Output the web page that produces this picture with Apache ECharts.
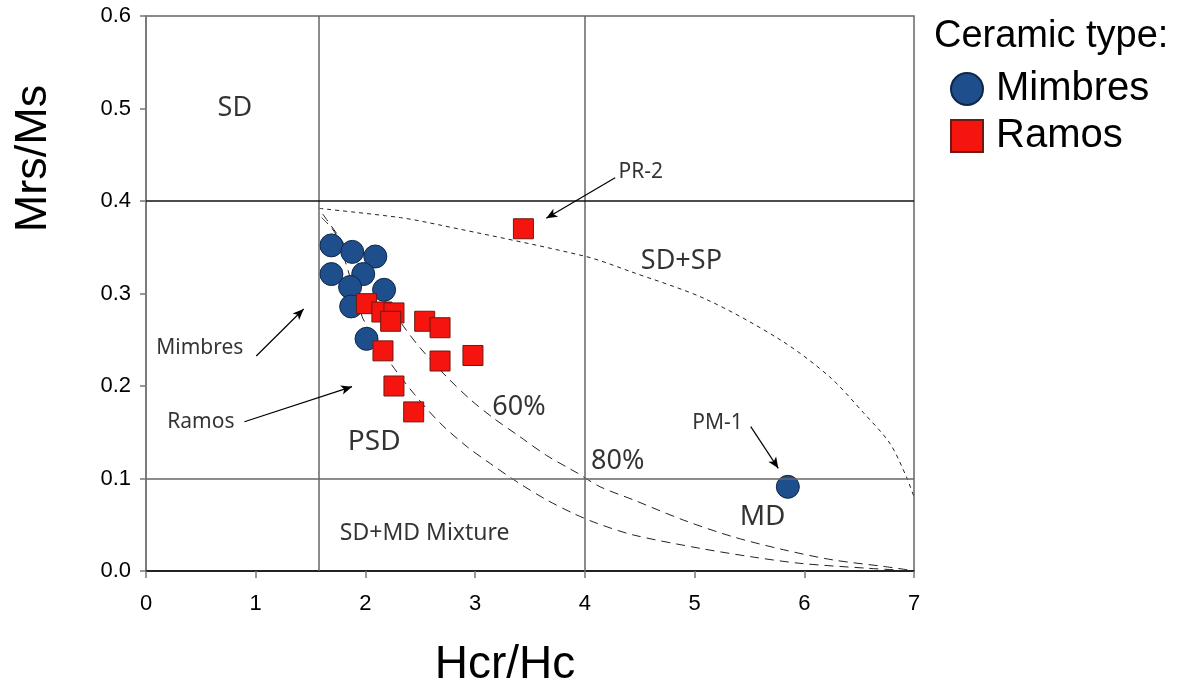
<!DOCTYPE html>
<html>
<head>
<meta charset="utf-8">
<script src="https://cdn.jsdelivr.net/npm/echarts@6/dist/echarts.min.js"></script>
<style>
  html, body { margin: 0; padding: 0; background: #fff; }
  #chart { width: 1182px; height: 678px; }
</style>
</head>
<body>
<div id="chart"></div>
<script>
// Day plot: hysteresis ratios of ceramic samples
const xTicks = [0, 1, 2, 3, 4, 5, 6, 7];
const yTicks = [0.0, 0.1, 0.2, 0.3, 0.4, 0.5, 0.6];

// [Hcr/Hc, Mrs/Ms]
const mimbres = [
  [1.69, 0.352], [1.88, 0.345], [2.09, 0.340], [1.69, 0.321], [1.98, 0.321],
  [1.86, 0.307], [2.17, 0.304], [1.87, 0.286], [2.01, 0.251], [5.85, 0.091]
];
const ramos = [
  [2.01, 0.289], [2.15, 0.280], [2.26, 0.279], [2.23, 0.270], [2.54, 0.270],
  [2.68, 0.263], [2.16, 0.238], [2.68, 0.227], [2.98, 0.233], [2.26, 0.200],
  [2.44, 0.172], [3.44, 0.370]
];

// Domain boundaries
const hcrLines = [1.57, 4];
const mrsLines = [0.4, 0.1];

// Mixing curves
const sdSpCurve = [
  [1.58, 0.392], [2.32, 0.382], [2.68, 0.374], [4.01, 0.340], [4.41, 0.324],
  [5.10, 0.294], [5.78, 0.250], [6.23, 0.210], [6.54, 0.171], [6.78, 0.138],
  [6.93, 0.102], [7.00, 0.080]
];
const sdMdUpper = [
  [1.61, 0.386], [2.35, 0.264], [2.50, 0.241], [2.74, 0.210], [2.96, 0.185],
  [3.17, 0.165], [3.41, 0.145], [3.65, 0.125], [3.93, 0.106], [4.14, 0.091],
  [4.44, 0.077], [4.90, 0.055], [5.35, 0.037], [5.81, 0.023], [6.26, 0.012],
  [6.72, 0.005], [6.96, 0.001]
];
const sdMdLower = [
  [1.60, 0.382], [1.73, 0.364], [1.97, 0.275], [2.02, 0.264], [2.23, 0.2245],
  [2.44, 0.192], [2.68, 0.160], [2.93, 0.134], [3.14, 0.116], [3.38, 0.0965],
  [3.65, 0.077], [3.90, 0.062], [4.11, 0.0516], [4.44, 0.039], [5.05, 0.0245],
  [5.51, 0.0155], [5.96, 0.0083], [6.57, 0.003], [6.87, 0.001]
];

// Region and curve labels: [x, y, text, fontSize]
const notes = [
  [0.81, 0.5005, 'SD', 27],
  [4.51, 0.4314, 'PR-2', 21],
  [4.88, 0.3351, 'SD+SP', 27],
  [0.49, 0.2411, 'Mimbres', 21],
  [0.50, 0.1611, 'Ramos', 21],
  [2.08, 0.1395, 'PSD', 28],
  [3.40, 0.1773, '60%', 27],
  [4.30, 0.1189, '80%', 27],
  [5.21, 0.1600, 'PM-1', 21],
  [5.62, 0.0584, 'MD', 28],
  [2.54, 0.0411, 'SD+MD Mixture', 23]
];

// Pointer arrows: [from, to]
const arrows = [
  [[1.005, 0.2324], [1.437, 0.2832]],
  [[0.897, 0.1614], [1.878, 0.1993]],
  [[4.276, 0.4252], [3.648, 0.3813]],
  [[5.512, 0.1560], [5.763, 0.1110]]
];

const noteFont = '"Noto Sans", "Open Sans", sans-serif';
const axisFont = '"Liberation Sans", Arial, sans-serif';

const chart = echarts.init(document.getElementById('chart'));

const curveSeries = (data, dash) => ({
  type: 'line',
  data: data,
  smooth: 0.3,
  showSymbol: false,
  silent: true,
  z: 1,
  lineStyle: { color: '#222', width: 1, type: dash }
});

chart.setOption({
  animation: false,
  backgroundColor: '#fff',
  title: {
    text: 'Ceramic type:',
    left: 929,
    top: 13,
    textStyle: { fontFamily: axisFont, fontSize: 38, fontWeight: 'normal', color: '#000' }
  },
  legend: {
    data: ['Mimbres', 'Ramos'],
    orient: 'vertical',
    left: 950,
    top: 69,
    padding: 0,
    itemWidth: 32,
    itemHeight: 32,
    itemGap: 7,
    textStyle: { fontFamily: axisFont, fontSize: 40, lineHeight: 40, color: '#000', padding: [0, 0, 0, 8] }
  },
  grid: {
    left: 146, top: 16, right: 268, bottom: 107,
    outerBoundsMode: 'none',
    containLabel: false,
    show: true, borderColor: '#666', borderWidth: 1.5
  },
  xAxis: {
    type: 'value',
    min: xTicks[0], max: xTicks[xTicks.length - 1], interval: 1,
    name: 'Hcr/Hc',
    nameLocation: 'middle',
    nameGap: 71,
    nameTextStyle: { fontFamily: axisFont, fontSize: 46, color: '#000', padding: [0, 50, 0, 0] },
    axisLine: { lineStyle: { color: '#000', width: 1.5 } },
    axisTick: { show: true, length: 7, lineStyle: { color: '#777', width: 1.5 } },
    axisLabel: { margin: 22, fontFamily: axisFont, fontSize: 22, color: '#000' },
    splitLine: { show: false }
  },
  yAxis: {
    type: 'value',
    min: yTicks[0], max: yTicks[yTicks.length - 1], interval: 0.1,
    name: 'Mrs/Ms',
    nameLocation: 'middle',
    nameGap: 90,
    nameTextStyle: { fontFamily: axisFont, fontSize: 45, color: '#000', padding: [0, 0, 0, 270] },
    axisLine: { show: true, lineStyle: { color: '#777', width: 1.5 } },
    axisTick: { show: true, length: 6, lineStyle: { color: '#777', width: 1.5 } },
    axisLabel: {
      margin: 15, fontFamily: axisFont, fontSize: 22, color: '#000',
      formatter: v => v.toFixed(1)
    },
    splitLine: { show: false }
  },
  series: [
    curveSeries(sdSpCurve, [4, 4]),
    curveSeries(sdMdUpper, [9, 6]),
    curveSeries(sdMdLower, [9, 6]),
    {
      name: 'notes',
      type: 'scatter',
      silent: true,
      z: 2,
      symbolSize: 1,
      itemStyle: { color: 'transparent' },
      data: notes.map(n => ({
        value: [n[0], n[1]],
        name: n[2],
        label: { fontSize: n[3] }
      })),
      label: {
        show: true,
        position: 'inside',
        formatter: p => p.name,
        fontFamily: noteFont,
        color: '#000'
      },
      markLine: {
        silent: true,
        animation: false,
        symbol: ['none', 'none'],
        label: { show: false },
        data: [
          ...hcrLines.map(v => ({ xAxis: v, lineStyle: { color: '#666', width: 1.5, type: 'solid' } })),
          ...mrsLines.map((v, i) => ({ yAxis: v, lineStyle: { color: i === 0 ? '#111' : '#666', width: 1.5, type: 'solid' } })),
          ...arrows.map(a => [
            { coord: a[0], symbol: 'none' },
            { coord: a[1], symbol: 'arrow', symbolSize: [7, 11] }
          ].map(pt => Object.assign(pt, { lineStyle: { color: '#000', width: 1.2, type: 'solid' } })))
        ]
      }
    },
    {
      name: 'Mimbres',
      type: 'scatter',
      z: 4,
      symbol: 'circle',
      symbolSize: 23,
      data: mimbres,
      itemStyle: { color: '#1e4f8c', borderColor: '#0e2747', borderWidth: 1, opacity: 1 }
    },
    {
      name: 'Ramos',
      type: 'scatter',
      z: 5,
      symbol: 'rect',
      symbolSize: 20,
      data: ramos,
      itemStyle: { color: '#f5140e', borderColor: '#6e1a12', borderWidth: 1, opacity: 1 }
    }
  ]
});
</script>
</body>
</html>
